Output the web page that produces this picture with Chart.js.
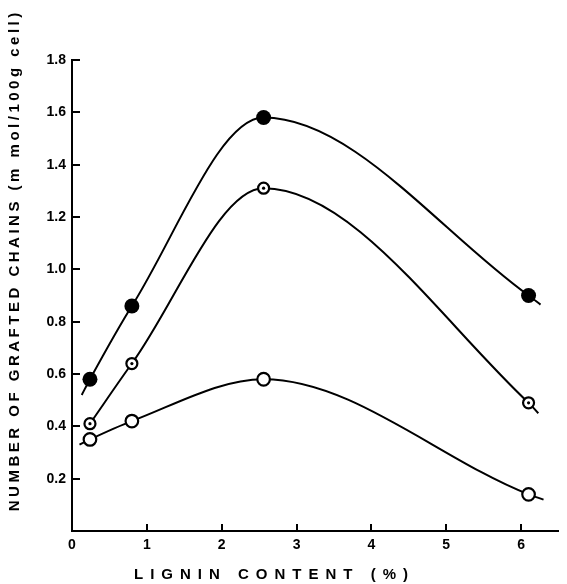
<!DOCTYPE html>
<html><head><meta charset="utf-8">
<script src="https://cdn.jsdelivr.net/npm/chart.js@4/dist/chart.umd.min.js"></script>
<style>html,body{margin:0;padding:0;background:#fff}#wrap{width:567px;height:584px}</style>
</head><body><div id="wrap"><canvas id="c" width="567" height="584"></canvas></div>
<script>
// ---- data ----
const lignin = [0.24, 0.80, 2.56, 6.10];
const filledVals = [0.58, 0.86, 1.58, 0.90];
const dottedVals = [0.41, 0.64, 1.31, 0.49];
const openVals = [0.35, 0.42, 0.58, 0.14];
// short curve ends drawn past the first / last markers
const filledStart = [0.13, 0.52];
const filledEnd = [6.26, 0.865];
const dottedEnd = [6.23, 0.45];
const openStart = [0.10, 0.33];
const openEnd = [6.30, 0.12];
const xTickVals = [0, 1, 2, 3, 4, 5, 6];
const yTickVals = [0.2, 0.4, 0.6, 0.8, 1.0, 1.2, 1.4, 1.6, 1.8];
const xTitle = 'LIGNIN CONTENT (%)';
const yTitle = 'NUMBER OF GRAFTED CHAINS (m mol/100g cell)';

const FONT = "'Liberation Sans', Arial, sans-serif";
const pts = (xs, ys) => xs.map((x, i) => ({x: x, y: ys[i]}));
const curve = (start, vals, end) => {
  const a = pts(lignin, vals);
  if (start) a.unshift({x: start[0], y: start[1]});
  if (end) a.push({x: end[0], y: end[1]});
  return a;
};

const lineStyle = {type: 'line', borderColor: '#000', borderWidth: 2, pointRadius: 0,
  cubicInterpolationMode: 'monotone', fill: false, order: 2};
const markStyle = {type: 'line', showLine: false, borderColor: '#000', order: 1};

const datasets = [
  Object.assign({label: 'filled curve', data: curve(filledStart, filledVals, filledEnd)}, lineStyle),
  Object.assign({label: 'dotted curve', data: curve(null, dottedVals, dottedEnd)}, lineStyle),
  Object.assign({label: 'open curve', data: curve(openStart, openVals, openEnd)}, lineStyle),
  Object.assign({label: 'filled', data: pts(lignin, filledVals), pointRadius: 7.5, pointBackgroundColor: '#000', pointBorderWidth: 0}, markStyle),
  Object.assign({label: 'dotted', data: pts(lignin, dottedVals), pointRadius: 5.5, pointBackgroundColor: '#fff', pointBorderWidth: 2.2}, markStyle),
  Object.assign({label: 'dotted centre', data: pts(lignin, dottedVals), pointRadius: 1.6, pointBackgroundColor: '#000', pointBorderWidth: 0}, markStyle),
  Object.assign({label: 'open', data: pts(lignin, openVals), pointRadius: 6.3, pointBackgroundColor: '#fff', pointBorderWidth: 2.2}, markStyle)
];
datasets[5].order = 0;

function spacedTitle(scale, cx, cy, rotate, size, spacing) {
  scale.drawTitle = function () {
    const ctx = this.ctx;
    ctx.save();
    ctx.font = 'bold ' + size + 'px ' + FONT;
    ctx.fillStyle = '#000';
    ctx.letterSpacing = spacing + 'px';
    ctx.textAlign = 'center';
    ctx.textBaseline = 'middle';
    ctx.translate(cx + (rotate ? 0 : spacing / 2), cy - (rotate ? spacing / 2 : 0));
    if (rotate) ctx.rotate(-Math.PI / 2);
    ctx.fillText(this.options.title.text, 0, 0);
    ctx.restore();
  };
}

function drawInwardTicks(chart) {
  const ctx = chart.ctx, xs = chart.scales.x, ys = chart.scales.y, a = chart.chartArea;
  ctx.save();
  ctx.letterSpacing = '0px';
  ctx.strokeStyle = '#000000';
  ctx.lineWidth = 2;
  ctx.setLineDash([]);
  for (const v of xTickVals) {
    if (v === 0) continue;
    const px = Math.round(xs.getPixelForValue(v));
    ctx.beginPath();
    ctx.moveTo(px, a.bottom);
    ctx.lineTo(px, a.bottom - 7);
    ctx.stroke();
  }
  for (const v of yTickVals) {
    const py = Math.round(ys.getPixelForValue(v));
    ctx.beginPath();
    ctx.moveTo(a.left, py);
    ctx.lineTo(a.left + 8, py);
    ctx.stroke();
  }
  ctx.restore();
}

const axisPlugin = {
  id: 'axisExtras',
  beforeDraw(chart) {
    spacedTitle(chart.scales.x, 271, 575, false, 15, 7);
    spacedTitle(chart.scales.y, 15, 262, true, 15, 3.5);
  },
  afterDatasetsDraw(chart) {
    drawInwardTicks(chart);
  }
};

const tickFont = {family: FONT, size: 14, weight: 'bold'};

new Chart(document.getElementById('c'), {
  type: 'line',
  data: {datasets: datasets},
  plugins: [axisPlugin],
  options: {
    responsive: false,
    animation: false,
    events: [],
    layout: {padding: {top: 60, right: 6, left: 0, bottom: 0}},
    plugins: {legend: {display: false}, tooltip: {enabled: false}},
    scales: {
      x: {
        type: 'linear', min: 0, max: 6.5,
        afterBuildTicks: s => { s.ticks = xTickVals.map(v => ({value: v})); },
        afterFit: s => { s.height = 53; },
        grid: {display: false, drawTicks: false},
        border: {display: true, color: '#000', width: 2},
        ticks: {color: '#000', font: tickFont, padding: 6, maxRotation: 0, callback: v => String(v)},
        title: {display: true, text: xTitle, color: '#000'}
      },
      y: {
        type: 'linear', min: 0, max: 1.8,
        afterBuildTicks: s => { s.ticks = yTickVals.map(v => ({value: v})); },
        afterFit: s => { s.width = 72; },
        grid: {display: false, drawTicks: false},
        border: {display: true, color: '#000', width: 2},
        ticks: {color: '#000', font: tickFont, padding: 6, callback: v => Number(v).toFixed(1)},
        title: {display: true, text: yTitle, color: '#000'}
      }
    }
  }
});
</script>
</body></html>
